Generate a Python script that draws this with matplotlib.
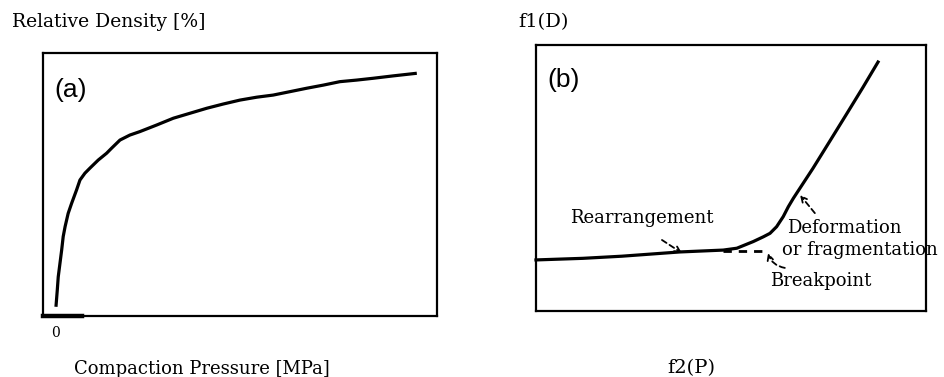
import matplotlib
matplotlib.use("Agg")
import matplotlib.pyplot as plt

# panel (a): relative density vs compaction pressure
pressure = [0, 0.35, 0.6, 1.05, 1.5, 1.9, 2.4, 3.2, 4.1, 5.4, 6.3, 7.6, 8.9,
            11.1, 13.3, 14.6, 16.8, 19.4, 22.0, 26.4, 30.8, 35.2, 39.6, 43.9,
            48.3, 52.7, 57.0, 61.4, 65.8, 70.2, 74.5, 78.9, 83.3, 88.5, 94.7]
density = [3.5, 9.9, 14.9, 20.0, 25.1, 30.2, 34.0, 39.0, 42.8, 47.9, 51.7,
           54.3, 56.2, 59.3, 61.9, 63.8, 66.9, 68.8, 70.1, 72.6, 75.2, 77.1,
           79.0, 80.6, 82.1, 83.2, 84.0, 85.3, 86.6, 87.8, 89.1, 89.7, 90.4,
           91.3, 92.3]

# panel (b): f1(D) vs f2(P)
f2p = [0, 12, 22, 36.9, 48.0, 51.5, 55.7, 58.3, 60.0, 61.7, 63.4, 64.7,
       66.0, 68.5, 71.0, 75.4, 79.7, 83.8, 87.7]
f1d = [19.2, 19.8, 20.6, 22.2, 22.9, 23.6, 26.1, 27.9, 29.2, 31.7, 35.5,
       39.2, 42.4, 48.0, 53.6, 64.0, 74.2, 84.0, 93.6]
# dashed extension of the rearrangement line
ext_x = [48.0, 58.5]
ext_y = [22.5, 22.5]

serif = "DejaVu Serif"
fs = 13

fig = plt.figure(figsize=(9.44, 3.77), dpi=100)
fig.patch.set_facecolor("white")

W, H = 944, 377


def box(l, t, r, b):
    return [l / W, (H - b) / H, (r - l) / W, (b - t) / H]


ax_a = fig.add_axes(box(43, 53, 437, 316))
ax_b = fig.add_axes(box(536, 45, 926, 311))

for ax in (ax_a, ax_b):
    ax.set_xticks([])
    ax.set_yticks([])
    for s in ax.spines.values():
        s.set_linewidth(1.6)
        s.set_color("black")

# (a)
ax_a.set_xlim(-3.4, 100)
ax_a.set_ylim(0, 100)
ax_a.plot(pressure, density, color="black", lw=2.3, solid_capstyle="butt")
ax_a.plot([-3.4, 6.8], [0, 0], color="black", lw=3.2, clip_on=False)
ax_a.text(0.03, 0.86, "(a)", transform=ax_a.transAxes, fontsize=19,
          family="Liberation Sans", va="center", ha="left")

# (b)
ax_b.set_xlim(0, 100)
ax_b.set_ylim(0, 100)
ax_b.plot(f2p, f1d, color="black", lw=2.3, clip_on=False)
ax_b.plot(ext_x, ext_y, color="black", lw=2, ls=(0, (3, 2.5)))
ax_b.text(0.028, 0.868, "(b)", transform=ax_b.transAxes, fontsize=19,
          family="Liberation Sans", va="center", ha="left")

arrow = dict(arrowstyle="->", color="black", lw=1.3, ls=(0, (3, 2)),
             shrinkA=0, shrinkB=0)
ax_b.annotate("", xy=(37.4, 21.8), xytext=(32.3, 26.7), arrowprops=arrow)
ax_b.annotate("", xy=(67.7, 43.6), xytext=(71.5, 36.8), arrowprops=arrow)
ax_b.annotate("", xy=(59.5, 21.8), xytext=(63.8, 16.2),
              arrowprops=dict(arrow, connectionstyle="arc3,rad=-0.3"))

ax_b.text(8.7, 35, "Rearrangement", family=serif, fontsize=fs, va="center")
ax_b.text(64.4, 31.2, "Deformation", family=serif, fontsize=fs, va="center")
ax_b.text(63.0, 22.9, "or fragmentation", family=serif, fontsize=fs,
          va="center")
ax_b.text(60, 11.3, "Breakpoint", family=serif, fontsize=fs, va="center")

# figure labels
fig.text(12 / W, 1 - 22 / H, "Relative Density [%]", family=serif,
         fontsize=fs + 0.5, va="center")
fig.text(518 / W, 1 - 22 / H, "f1(D)", family=serif, fontsize=fs + 1,
         va="center")
fig.text(56 / W, 1 - 333 / H, "0", family=serif, fontsize=fs - 3,
         va="center", ha="center")
fig.text(74 / W, 1 - 369 / H, "Compaction Pressure [MPa]", family=serif,
         fontsize=fs, va="center")
fig.text(667 / W, 1 - 368 / H, "f2(P)", family=serif, fontsize=fs + 1,
         va="center")

fig.savefig("out.png", dpi=100)
